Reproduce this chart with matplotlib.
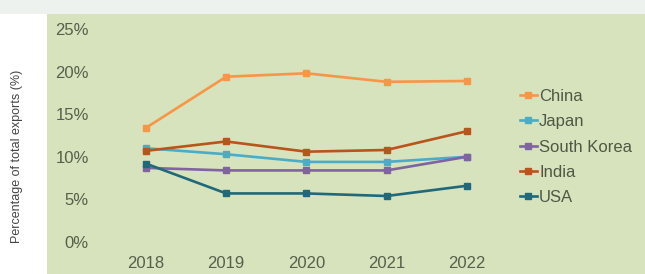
import matplotlib.pyplot as plt
from matplotlib.patches import Rectangle

plt.rcParams['font.family'] = ['Liberation Sans', 'DejaVu Sans']

years = ["2018", "2019", "2020", "2021", "2022"]
china = [13.4, 19.4, 19.8, 18.8, 18.9]
japan = [11.0, 10.3, 9.4, 9.4, 10.0]
south_korea = [8.7, 8.4, 8.4, 8.4, 10.0]
india = [10.7, 11.8, 10.6, 10.8, 13.0]
usa = [9.2, 5.7, 5.7, 5.4, 6.6]

series = [
    ("China", china, "#f79646"),
    ("Japan", japan, "#4bacc6"),
    ("South Korea", south_korea, "#8064a2"),
    ("India", india, "#b8541c"),
    ("USA", usa, "#20697a"),
]
yticks = [0, 5, 10, 15, 20, 25]

W, H = 645, 274
fig = plt.figure(figsize=(W / 100, H / 100), dpi=100)
fig.patch.set_facecolor("white")

# green chart area
fig.patches.append(Rectangle((47 / W, 0), 1 - 47 / W, (H - 14) / H,
                             transform=fig.transFigure, facecolor="#d6e3bc",
                             edgecolor="none", zorder=-5))
# faint top band
fig.patches.append(Rectangle((0, (H - 14) / H), 1, 14 / H,
                             transform=fig.transFigure, facecolor="#edf2ee",
                             edgecolor="none", zorder=-5))

ax = fig.add_axes([100 / W, (H - 242) / H, 415 / W, 213 / H])
ax.set_facecolor("none")
ax.set_zorder(2)

x = list(range(len(years)))
for name, vals, col in series:
    ax.plot(x, vals, color=col, linewidth=1.9, marker="s", markersize=5,
            label=name)

ax.set_xlim(-0.573, 4.6)
ax.set_ylim(0, 25)
ax.set_xticks(x)
ax.set_xticklabels(years)
ax.set_yticks(yticks)
ax.set_yticklabels([f"{v}%" for v in yticks])
ax.tick_params(length=0, labelsize=12, labelcolor="#56604c")
ax.tick_params(axis="y", pad=8)
ax.tick_params(axis="x", pad=10)
for s in ax.spines.values():
    s.set_visible(False)

leg = ax.legend(loc="upper left", bbox_to_anchor=(520 / W, (H - 89) / H),
                bbox_transform=fig.transFigure, frameon=False, fontsize=12,
                handlelength=1.0, handletextpad=0.15, labelspacing=0.62,
                borderaxespad=0, borderpad=0)
for t in leg.get_texts():
    t.set_color("#4e5845")

fig.text(17 / W, (H - 156) / H, "Percentage of total exports (%)",
         rotation=90, ha="center", va="center", fontsize=9, color="#444444")

fig.savefig("out.png", dpi=100)
